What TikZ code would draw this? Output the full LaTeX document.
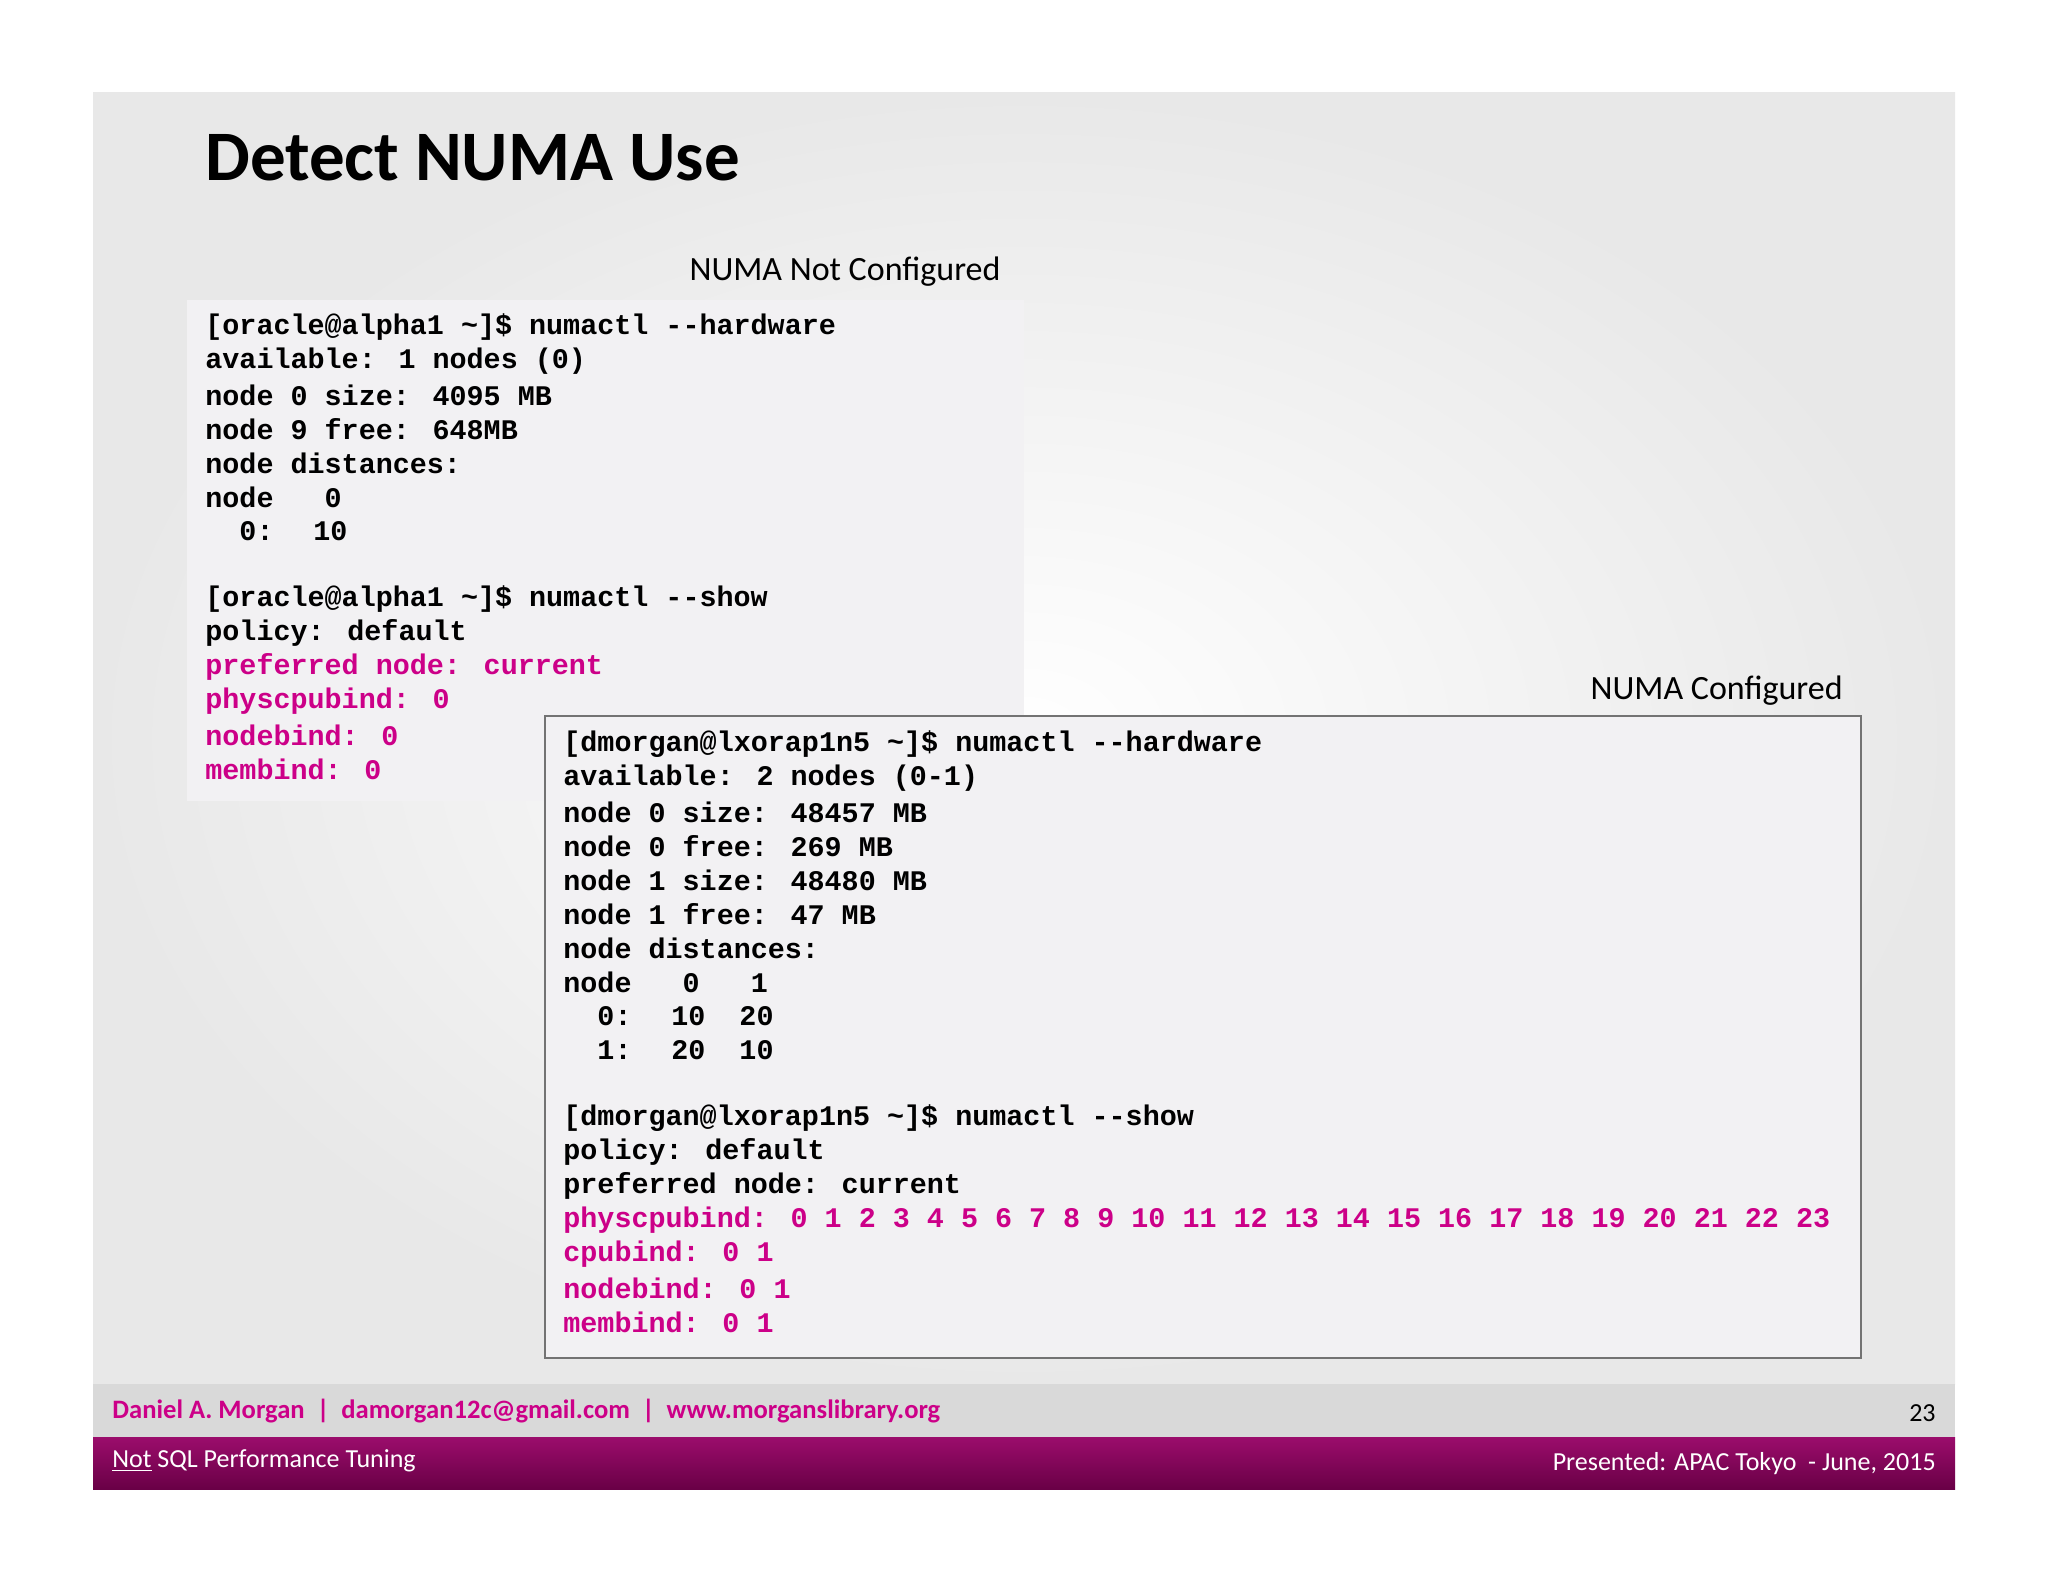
\documentclass[tikz,border=0pt]{standalone}
\usepackage{fontspec}
\setmainfont{Carlito}
\newfontfamily\cmono{Liberation Mono}
\definecolor{mag}{RGB}{204,0,136}
\definecolor{bar}{RGB}{150,0,100}
\definecolor{boxg}{RGB}{242,241,243}
\begin{document}
\begin{tikzpicture}[x=0.5pt,y=-0.5pt,
  code/.style={anchor=west,inner sep=0pt,font=\cmono\bfseries\fontsize{14.2}{16}\selectfont},
  lbl/.style={inner sep=0pt,font=\fontsize{17}{20}\selectfont}]
\useasboundingbox (0,0) rectangle (2048,1582);
\fill[white] (0,0) rectangle (2048,1582);
\shade[inner color=white,outer color=black!9] (93,93) rectangle (1955,1384);
\node[anchor=west,inner sep=0pt,font=\bfseries\fontsize{35.5}{40}\selectfont] (title) at (205,158) {Detect NUMA Use};
\node[lbl] (l1) at (845,272) {NUMA Not Configured};
\fill[boxg] (187,300) rectangle (1024,801);
\foreach \t [count=\i from 0] in {{[oracle@alpha1 \string~]\$ numactl --hardware},{available: 1 nodes (0)},{node 0 size: 4095 MB},{node 9 free: 648MB},{node distances:},{node \ \ 0},{\ \ 0: \ 10},{},{[oracle@alpha1 \string~]\$ numactl --show},{policy: default}}
  \node[code] at (205,327+34*\i) {\t};
\foreach \t [count=\i from 10] in {{preferred node: current},{physcpubind: 0},{nodebind: 0},{membind: 0}}
  \node[code,text=mag] at (205,327+34*\i) {\t};
\node[lbl,anchor=east] (l2) at (1843,691) {NUMA Configured};
\draw[fill=boxg,draw=black!55,line width=1.2pt] (545,716) rectangle (1861,1358);
\foreach \t [count=\i from 0] in {{[dmorgan@lxorap1n5 \string~]\$ numactl --hardware},{available: 2 nodes (0-1)},{node 0 size: 48457 MB},{node 0 free: 269 MB},{node 1 size: 48480 MB},{node 1 free: 47 MB},{node distances:},{node \ \ 0 \ \ 1},{\ \ 0: \ 10 \ 20},{\ \ 1: \ 20 \ 10},{},{[dmorgan@lxorap1n5 \string~]\$ numactl --show},{policy: default},{preferred node: current}}
  \node[code] at (563,744+34*\i) {\t};
\foreach \t [count=\i from 14] in {{physcpubind: 0 1 2 3 4 5 6 7 8 9 10 11 12 13 14 15 16 17 18 19 20 21 22 23},{cpubind: 0 1},{nodebind: 0 1},{membind: 0 1}}
  \node[code,text=mag] at (563,744+34*\i) {\t};
\fill[black!15] (93,1384) rectangle (1955,1437);
\shade[top color=bar!95!white,bottom color=bar!70!black] (93,1437) rectangle (1955,1489);
\node[anchor=west,inner sep=0pt,text=mag,font=\bfseries\fontsize{13.3}{15}\selectfont] (f1) at (112,1411) {Daniel A. Morgan \ \textbar\ \ damorgan12c@gmail.com \ \textbar\ \ www.morganslibrary.org};
\node[anchor=east,inner sep=0pt,font=\fontsize{13}{15}\selectfont] (pg) at (1936,1413) {23};
\node[anchor=west,inner sep=0pt,text=white,font=\fontsize{13}{15}\selectfont] (f2) at (112,1461) {\underline{Not} SQL Performance Tuning};
\node[anchor=east,inner sep=0pt,text=white,font=\fontsize{13}{15}\selectfont] (f3) at (1936,1464) {Presented: APAC Tokyo \ - June, 2015};
\end{tikzpicture}
\end{document}
